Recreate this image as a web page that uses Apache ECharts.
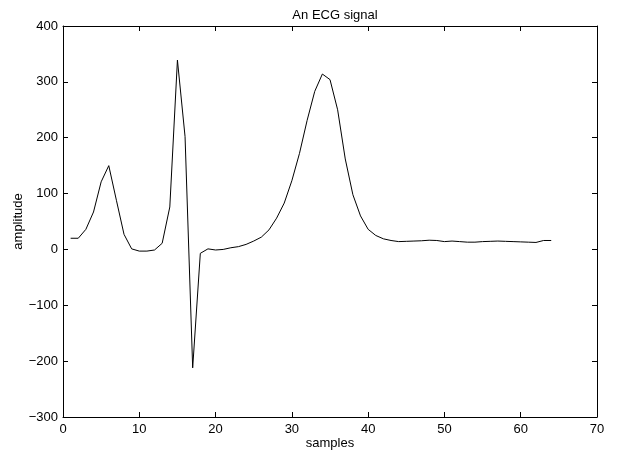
<!DOCTYPE html>
<html>
<head>
<meta charset="utf-8">
<script src="https://cdn.jsdelivr.net/npm/echarts@6/dist/echarts.min.js"></script>
<style>html,body{margin:0;padding:0;background:#fff}#c{width:624px;height:450px}</style>
</head>
<body>
<div id="c"></div>
<script>
var samples = [];
for (var i = 1; i <= 64; i++) samples.push(i);
var amplitude = [20, 20, 36, 67, 121, 150, 88, 27, 1, -3, -3, -1, 11, 76, 339, 202, -212, -7, 1, -1,
  0, 3, 5, 9, 15, 22, 35, 56, 83, 123, 172, 231, 283, 314, 304, 250, 162, 98, 60, 36,
  25, 19, 16, 14, 14.5, 15, 15.5, 16.5, 16, 14, 15, 14, 13, 13, 14, 14.5, 15, 14.5, 14, 13.5,
  13, 12.5, 16, 16];
var xTicks = [0, 10, 20, 30, 40, 50, 60, 70];
var yTicks = [-300, -200, -100, 0, 100, 200, 300, 400];

var chart = echarts.init(document.getElementById('c'));
var font = 'Liberation Sans, Arial, Helvetica, sans-serif';
function fmt(v){ return v < 0 ? '\u2212' + Math.abs(v) : String(v); }
var axisCommon = {
  splitLine: {show: false},
  axisLine: {show: true, onZero: false, lineStyle: {color: '#000', width: 1}},
  axisTick: {show: true, inside: true, length: 5, lineStyle: {color: '#000'}}
};
chart.setOption({
  animation: false,
  backgroundColor: '#fff',
  title: {text: 'An ECG signal', left: 330, textAlign: 'center', top: 4,
    textStyle: {fontFamily: font, fontSize: 13, fontWeight: 'normal', color: '#000'}},
  grid: {left: 63, right: 27, top: 26, bottom: 33, containLabel: false, outerBoundsMode: 'none'},
  xAxis: [
    Object.assign({type: 'value', min: xTicks[0], max: xTicks[xTicks.length-1], interval: 10, position: 'bottom',
      name: 'samples', nameLocation: 'middle', nameGap: 20, nameMoveOverlap: false,
      nameTextStyle: {fontFamily: font, fontSize: 13, color: '#000'},
      axisLabel: {fontFamily: font, fontSize: 13, color: '#000', margin: 6}}, axisCommon),
    Object.assign({type: 'value', min: xTicks[0], max: xTicks[xTicks.length-1], interval: 10, position: 'top',
      axisLabel: {show: false}}, axisCommon)
  ],
  yAxis: [
    Object.assign({type: 'value', min: yTicks[0], max: yTicks[yTicks.length-1], interval: 100, position: 'left',
      name: 'amplitude', nameLocation: 'middle', nameGap: 38, nameMoveOverlap: false,
      nameTextStyle: {fontFamily: font, fontSize: 13, color: '#000'},
      axisLabel: {fontFamily: font, fontSize: 13, color: '#000', margin: 5, formatter: fmt}}, axisCommon),
    Object.assign({type: 'value', min: yTicks[0], max: yTicks[yTicks.length-1], interval: 100, position: 'right',
      axisLabel: {show: false}}, axisCommon)
  ],
  series: [{
    type: 'line',
    data: samples.map(function(s, i){ return [s, amplitude[i]]; }),
    showSymbol: false,
    lineStyle: {color: '#000', width: 1},
    xAxisIndex: 0, yAxisIndex: 0
  }]
});
</script>
</body>
</html>
